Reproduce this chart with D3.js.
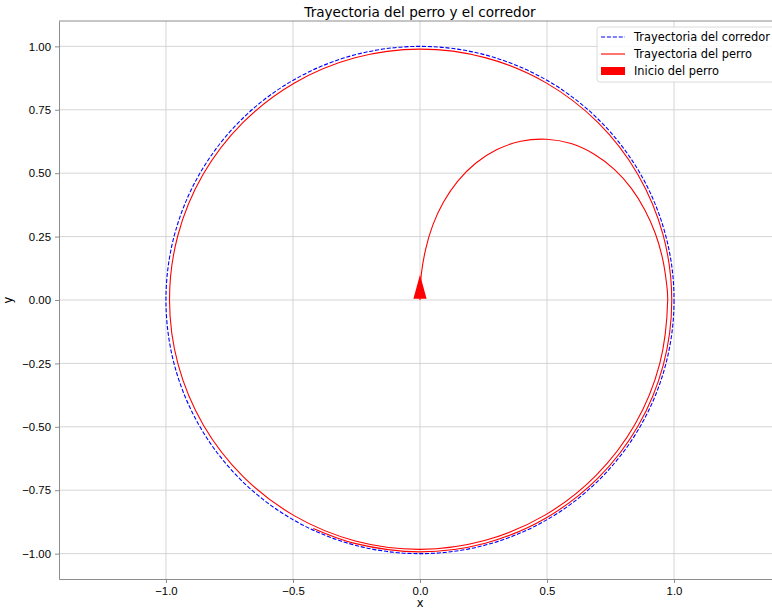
<!DOCTYPE html>
<html>
<head>
<meta charset="utf-8">
<title>Trayectoria del perro y el corredor</title>
<script src="https://cdn.jsdelivr.net/npm/d3@7"></script>
<style>
    body { margin: 0; background: #fff; }
    svg { font-family: "DejaVu Sans", sans-serif; }
    .grid line { stroke: #d0d0d0; stroke-width: 0.9px; }
    .axis path, .axis line { stroke: #808080; }
    .axis text { fill: #000; font-size: 11.4px; }
</style>
</head>
<body>
<script>
// data
var xTicks = [-1.0, -0.5, 0.0, 0.5, 1.0];
var yTicks = [-1.0, -0.75, -0.5, -0.25, 0.0, 0.25, 0.5, 0.75, 1.0];

// runner: circle of radius 1 centred at the origin
var runnerCenter = [0, 0];
var runnerRadius = 1;

// dog path, first part (x, y): from the origin up and over to the right side
var dogHookX = [0, 0.005, 0.022, 0.050, 0.092, 0.148, 0.219, 0.303, 0.397, 0.497,
    0.595, 0.686, 0.766, 0.832, 0.885, 0.926, 0.954, 0.970];
var dogHookY = [0, 0.100, 0.199, 0.294, 0.385, 0.468, 0.539, 0.593, 0.626, 0.634,
    0.617, 0.575, 0.514, 0.440, 0.355, 0.263, 0.167, 0.069];

// dog path, second part: near-circular laps, angle (degrees, clockwise from +x) and radius
var dogSpiralAngle = [0, 15, 30, 45, 60, 75, 90, 105, 120, 135, 150, 165, 180, 195, 210,
    225, 240, 255, 270, 285, 300, 315, 330, 345, 360, 375, 390, 405, 420, 435, 450, 465, 475];
var dogSpiralRadius = [0.975, 0.9765, 0.978, 0.979, 0.9805, 0.982, 0.983, 0.9835, 0.984,
    0.9845, 0.985, 0.9855, 0.986, 0.9865, 0.987, 0.9875, 0.988, 0.9885, 0.989, 0.9893,
    0.9897, 0.990, 0.9903, 0.9907, 0.991, 0.9913, 0.9917, 0.992, 0.9923, 0.9927, 0.993,
    0.9935, 0.994];

// start arrow head (triangle)
var arrowX = [-0.026, 0.026, 0];
var arrowY = [0.005, 0.005, 0.1];

var legendLabels = ["Trayectoria del corredor", "Trayectoria del perro", "Inicio del perro"];

var width = 772, height = 611;
var margin = {top: 22, left: 59, right: -9, bottom: 31};

var svg = d3.select("body").append("svg")
    .attr("width", width)
    .attr("height", height);

var x = d3.scaleLinear()
    .domain([-1.421, 1.421])
    .range([margin.left, width - margin.right]);
var y = d3.scaleLinear()
    .domain([-1.1, 1.1])
    .range([height - margin.bottom - 1, margin.top - 1]);

svg.append("defs").append("clipPath").attr("id", "clip")
    .append("rect")
    .attr("x", x.range()[0]).attr("y", y.range()[1])
    .attr("width", x.range()[1] - x.range()[0])
    .attr("height", y.range()[0] - y.range()[1]);

// grid
var grid = svg.append("g").attr("class", "grid");
grid.selectAll("line.gx").data(xTicks).enter().append("line")
    .attr("x1", function (d) { return x(d); }).attr("x2", function (d) { return x(d); })
    .attr("y1", y.range()[0]).attr("y2", y.range()[1]);
grid.selectAll("line.gy").data(yTicks).enter().append("line")
    .attr("y1", function (d) { return y(d); }).attr("y2", function (d) { return y(d); })
    .attr("x1", x.range()[0]).attr("x2", x.range()[1]);

var plot = svg.append("g").attr("clip-path", "url(#clip)");

// runner trajectory
plot.append("ellipse")
    .attr("cx", x(runnerCenter[0]))
    .attr("cy", y(runnerCenter[1]))
    .attr("rx", x(runnerRadius) - x(0))
    .attr("ry", y(0) - y(runnerRadius))
    .attr("fill", "none")
    .attr("stroke", "#0000ff")
    .attr("stroke-width", 1.1)
    .attr("stroke-dasharray", "4.1,1.8");

// dog trajectory: hook points then the laps converted from polar
var dogPoints = dogHookX.map(function (d, i) { return [d, dogHookY[i]]; })
    .concat(dogSpiralAngle.map(function (a, i) {
        var r = dogSpiralRadius[i], rad = a * Math.PI / 180;
        return [r * Math.cos(rad), -r * Math.sin(rad)];
    }));

var dogLine = d3.line()
    .x(function (d) { return x(d[0]); })
    .y(function (d) { return y(d[1]); })
    .curve(d3.curveCatmullRom.alpha(0.5));

plot.append("path")
    .attr("d", dogLine(dogPoints))
    .attr("fill", "none")
    .attr("stroke", "#ff0000")
    .attr("stroke-width", 1.1);

// start arrow
plot.append("polygon")
    .attr("points", arrowX.map(function (d, i) { return x(d) + "," + y(arrowY[i]); }).join(" "))
    .attr("fill", "#ff0000");

// axes
svg.append("g").attr("class", "axis")
    .attr("transform", "translate(0," + y.range()[0] + ")")
    .call(d3.axisBottom(x).tickValues(xTicks).tickFormat(d3.format(".1f"))
        .tickSize(4).tickPadding(4).tickSizeOuter(0));
svg.append("g").attr("class", "axis")
    .attr("transform", "translate(" + x.range()[0] + ",0)")
    .call(d3.axisLeft(y).tickValues(yTicks).tickFormat(d3.format(".2f"))
        .tickSize(4).tickPadding(4).tickSizeOuter(0));
svg.selectAll(".axis line").attr("stroke-width", 0.9);
svg.selectAll(".axis path").attr("stroke-width", 0.9);
svg.selectAll(".axis text").attr("font-family", null).attr("font-size", null);

// top spine
svg.append("line")
    .attr("x1", x.range()[0]).attr("x2", x.range()[1])
    .attr("y1", y.range()[1]).attr("y2", y.range()[1])
    .attr("stroke", "#808080").attr("stroke-width", 0.9);

// labels
svg.append("text")
    .attr("x", (x.range()[0] + x.range()[1]) / 2)
    .attr("y", 17)
    .attr("text-anchor", "middle")
    .attr("font-size", "13.6px")
    .attr("fill", "#000")
    .text("Trayectoria del perro y el corredor");

svg.append("text")
    .attr("x", (x.range()[0] + x.range()[1]) / 2)
    .attr("y", 607)
    .attr("text-anchor", "middle")
    .attr("font-size", "11.4px")
    .attr("fill", "#000")
    .text("x");

svg.append("text")
    .attr("transform", "translate(12," + y(0) + ") rotate(-90)")
    .attr("text-anchor", "middle")
    .attr("font-size", "11.4px")
    .attr("fill", "#000")
    .text("y");

// legend
var legend = svg.append("g").attr("transform", "translate(597,27)");
legend.append("rect")
    .attr("width", 180).attr("height", 55)
    .attr("rx", 3)
    .attr("fill", "#fff").attr("fill-opacity", 0.8)
    .attr("stroke", "#d6d6d6").attr("stroke-width", 0.9);

var items = legend.selectAll("g.item").data(legendLabels).enter().append("g")
    .attr("transform", function (d, i) { return "translate(0," + (10 + i * 17) + ")"; });

items.filter(function (d, i) { return i === 0; }).append("line")
    .attr("x1", 4).attr("x2", 28).attr("stroke", "#0000ff")
    .attr("stroke-width", 1.1).attr("stroke-dasharray", "4.1,1.8");
items.filter(function (d, i) { return i === 1; }).append("line")
    .attr("x1", 4).attr("x2", 28).attr("stroke", "#ff0000").attr("stroke-width", 1.1);
items.filter(function (d, i) { return i === 2; }).append("rect")
    .attr("x", 4).attr("y", -4).attr("width", 24).attr("height", 8).attr("fill", "#ff0000");

items.append("text")
    .attr("x", 37).attr("dy", "0.36em")
    .attr("font-size", "11.4px")
    .attr("fill", "#000")
    .text(function (d) { return d; });
</script>
</body>
</html>
